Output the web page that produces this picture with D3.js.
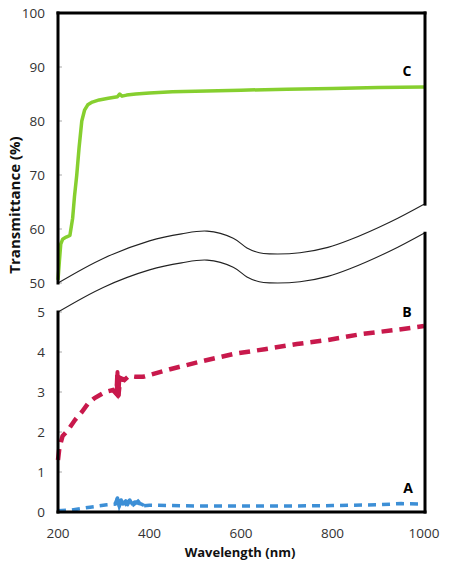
<!DOCTYPE html>
<html><head><meta charset="utf-8">
<script src="https://cdn.jsdelivr.net/npm/d3@7/dist/d3.min.js"></script>
<style>body{margin:0;background:#fff}svg{display:block}text{font-family:"Open Sans",sans-serif}</style>
</head><body>
<script>
// Data: [wavelength nm, transmittance %]
const seriesC = [[200,50.6],[203,54],[206,57.2],[210,58.1],[218,58.5],[226,58.8],[232,62],[236,66],[241,70],[246,75],[252,80],[258,82],[265,83],[275,83.5],[290,83.9],[310,84.2],[330,84.5],[335,85],[340,84.6],[350,84.8],[370,85],[400,85.2],[450,85.4],[500,85.5],[600,85.7],[700,85.9],[800,86],[900,86.2],[1000,86.3]];
const seriesB = [[200,1.3],[203,1.6],[210,1.9],[222,2.05],[237,2.3],[252,2.5],[265,2.7],[280,2.85],[303,3.0],[320,3.05],[328,2.95],[330,3.5],[332,2.9],[336,3.35],[345,3.3],[355,3.4],[370,3.38],[386,3.38],[445,3.57],[515,3.77],[583,3.95],[652,4.07],[722,4.2],[790,4.3],[864,4.45],[937,4.55],[1000,4.65]];
const seriesA = [[200,0.03],[230,0.05],[270,0.12],[307,0.18],[325,0.2],[330,0.35],[334,0.15],[340,0.33],[348,0.2],[357,0.3],[365,0.18],[375,0.27],[385,0.15],[400,0.17],[500,0.15],[600,0.15],[700,0.15],[800,0.16],[900,0.18],[950,0.21],[1000,0.2]];
// noisy stretches drawn solid
const noiseB = [[326,3.0],[328,2.95],[330,3.5],[332,2.9],[334,3.3],[336,3.35],[340,3.3],[345,3.35]];
const noiseA = [[326,0.18],[330,0.35],[334,0.15],[338,0.3],[342,0.2],[348,0.28],[352,0.18],[357,0.3],[362,0.2],[368,0.25],[375,0.22],[382,0.2],[388,0.16]];
// break band outline, in upper-panel units
const breakWave = [[200,50],[300,54.6],[400,57.8],[470,59.1],[526,59.6],[583,58.3],[613,56.5],[640,55.6],[663,55.4],[729,55.6],[790,56.6],[838,58],[926,61.3],[1000,64.6]];
const xTicks = [200,400,600,800,1000];
const yTopTicks = [50,60,70,80,90,100];
const yBotTicks = [0,1,2,3,4,5];

const W=450,H=568;
const svg=d3.select("body").append("svg").attr("width",W).attr("height",H);
const x=d3.scaleLinear().domain([200,1000]).range([58,424]);
const yT=d3.scaleLinear().domain([50,100]).range([283,13]);
const yB=d3.scaleLinear().domain([0,5]).range([512,312]);
const gap = yB(5)-yT(50);

// tick labels
svg.selectAll(".yt").data(yTopTicks).join("text").attr("x",45).attr("y",d=>yT(d)+5)
  .attr("text-anchor","end").attr("font-size",13.5).attr("fill","#333").text(d=>d);
svg.selectAll(".yb").data(yBotTicks).join("text").attr("x",45).attr("y",d=>yB(d)+5)
  .attr("text-anchor","end").attr("font-size",13.5).attr("fill","#333").text(d=>d);
svg.selectAll(".xt").data(xTicks).join("text").attr("x",d=>x(d)).attr("y",538)
  .attr("text-anchor","middle").attr("font-size",13.5).attr("fill","#333").text(d=>d);
// faint ticks
svg.selectAll(".ytk").data(yTopTicks).join("line").attr("x1",58).attr("x2",62).attr("y1",d=>yT(d)).attr("y2",d=>yT(d)).attr("stroke","#aaa");
svg.selectAll(".ybk").data(yBotTicks).join("line").attr("x1",58).attr("x2",62).attr("y1",d=>yB(d)).attr("y2",d=>yB(d)).attr("stroke","#aaa");

svg.append("text").attr("transform","translate(20,205) rotate(-90)").attr("text-anchor","middle")
  .attr("font-size",15).attr("font-weight","bold").attr("fill","#111").text("Transmittance (%)");
svg.append("text").attr("x",240).attr("y",557).attr("text-anchor","middle")
  .attr("font-size",13).attr("font-weight","bold").attr("fill","#111").text("Wavelength (nm)");

const lineT=d3.line().x(d=>x(d[0])).y(d=>yT(d[1]));
const lineB=d3.line().x(d=>x(d[0])).y(d=>yB(d[1]));

svg.append("path").attr("d",lineT(seriesC)).attr("fill","none").attr("stroke","#86cf2f").attr("stroke-width",3.5).attr("stroke-linejoin","round");
svg.append("path").attr("d",lineB(seriesB)).attr("fill","none").attr("stroke","#c8194c").attr("stroke-width",4.5).attr("stroke-dasharray","11,7");
svg.append("path").attr("d",lineB(noiseB)).attr("fill","none").attr("stroke","#c8194c").attr("stroke-width",4).attr("stroke-linejoin","round");
svg.append("path").attr("d",lineB(seriesA)).attr("fill","none").attr("stroke","#3d8fd6").attr("stroke-width",3.5).attr("stroke-dasharray","8,6");
svg.append("path").attr("d",lineB(noiseA)).attr("fill","none").attr("stroke","#3d8fd6").attr("stroke-width",3.5).attr("stroke-linejoin","round");

// break band
const wave=d3.line().x(d=>x(d[0])).y(d=>yT(d[1])).curve(d3.curveCatmullRom);
const waveLow=d3.line().x(d=>x(d[0])).y(d=>yT(d[1])+gap).curve(d3.curveCatmullRom);
svg.append("path").attr("d",wave(breakWave)).attr("fill","none").attr("stroke","#222").attr("stroke-width",1.1);
svg.append("path").attr("d",waveLow(breakWave)).attr("fill","none").attr("stroke","#222").attr("stroke-width",1.1);

// frame
const xr=x(1000)+1, yRT=yT(breakWave[breakWave.length-1][1]);
const fr=[[58,yT(100),xr,yT(100)],[58,yT(100),58,yT(50)],[58,yB(5),58,yB(0)],[xr,yT(100),xr,yRT],[xr,yRT+gap,xr,yB(0)],[58,yB(0),xr,yB(0)]];
svg.selectAll(".fr").data(fr).join("line").attr("x1",d=>d[0]).attr("y1",d=>d[1]).attr("x2",d=>d[2]).attr("y2",d=>d[3])
  .attr("stroke","#000").attr("stroke-width",3).attr("stroke-linecap","square");

svg.append("text").attr("x",407).attr("y",76).attr("text-anchor","middle").attr("font-size",14).attr("font-weight","bold").text("C");
svg.append("text").attr("x",407).attr("y",317).attr("text-anchor","middle").attr("font-size",14).attr("font-weight","bold").text("B");
svg.append("text").attr("x",408).attr("y",493).attr("text-anchor","middle").attr("font-size",14).attr("font-weight","bold").text("A");
</script>
</body></html>
